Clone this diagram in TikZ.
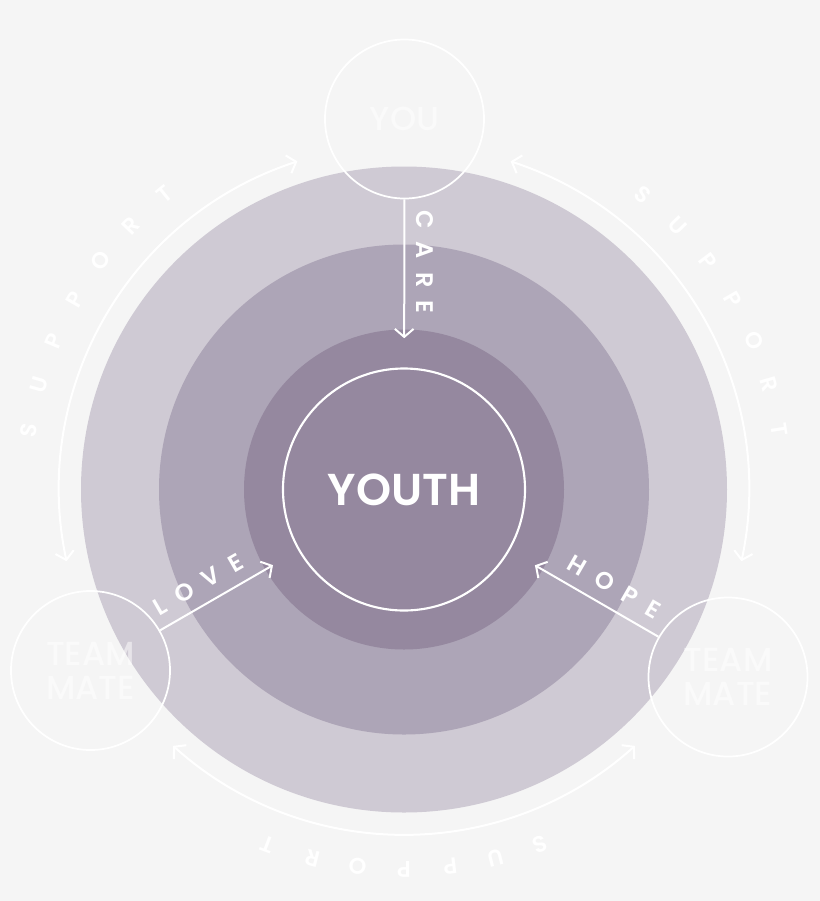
\documentclass[tikz,border=0pt]{standalone}
\usepackage{fontspec}
\setmainfont{Poppins}
\newfontfamily\midfont{Poppins Medium}
\newfontfamily\semifont{Poppins SemiBold}
\usetikzlibrary{arrows.meta}

\definecolor{paper}{RGB}{245,245,245}
\definecolor{ringOuter}{RGB}{207,202,212}
\definecolor{ringMid}{RGB}{173,165,183}
\definecolor{ringInner}{RGB}{149,136,159}
\newcommand\lsp{\hspace{0.55em}}

\tikzset{
  ring/.style={circle, inner sep=0pt, minimum size=#1},
  bubble/.style={circle, draw=white, line width=1.3pt, inner sep=0pt, minimum size=119.25pt,
    align=center, text=white, text opacity=0.5, font=\midfont\fontsize{25}{25.5}\selectfont},
  barb/.tip={Straight Barb[length=6pt,width=14pt]},
  link/.style={draw=white, line width=1.5pt, -barb, shorten >=-6.75pt},
  support/.style={draw=white, line width=1.5pt, barb-barb},
  tag/.style={text=white, font=\semifont\fontsize{18}{18}\selectfont, inner sep=8.5pt, anchor=south},
  spell/.style={text=white, font=\semifont\fontsize{17}{17}\selectfont, inner sep=0pt}
}

\begin{document}
\begin{tikzpicture}[x=0.75pt,y=0.75pt,yscale=-1,xscale=1]
%set diagram to 820 x 901
\fill[paper, use as bounding box] (0,0) rectangle (820,901);

%Rings
\node[ring=484.5pt, fill=ringOuter] (outer) at (404,489.5) {};
\node[ring=367.5pt, fill=ringMid] (middle) at (404,489.5) {};
\node[ring=240pt, fill=ringInner] (core) at (404,489.5) {};

%Centre
\node[circle, draw=white, line width=1.6pt, inner sep=0pt, minimum size=181.5pt, text=white,
  font=\semifont\fontsize{33.5}{33.5}\selectfont] (youth) at (404,489.5) {YOUTH};

%Bubbles
\node[bubble] (you) at (404.5,119) {YOU};
\node[bubble] (mateL) at (90.5,670.5) {TEAM\\MATE};
\node[bubble] (mateR) at (728,677) {TEAM\\MATE};

%Arrows
\draw[link] (you) -- node[tag, pos=0.48, rotate=-90] {C\lsp A\lsp R\lsp E} (core);
\draw[link] (mateL) -- node[tag, pos=0.46, rotate=30] {L\lsp O\lsp V\lsp E} (core);
\draw[link] (mateR) -- node[tag, pos=0.47, rotate=-30] {H\lsp O\lsp P\lsp E} (core);

%Support arcs
\foreach \c in {150,270,30}{
  \draw[support] (core.center) ++({-\c+42}:345) arc[start angle={-\c+42}, end angle={-\c-42}, radius=345];
  \foreach \l [count=\i] in {S,U,P,P,O,R,T}
    \path (core.center) ++({-(\c+21-7*(\i-1))}:380) node[spell, rotate={\c+21-7*(\i-1)-90}] {\l};
}

\end{tikzpicture}
\end{document}
